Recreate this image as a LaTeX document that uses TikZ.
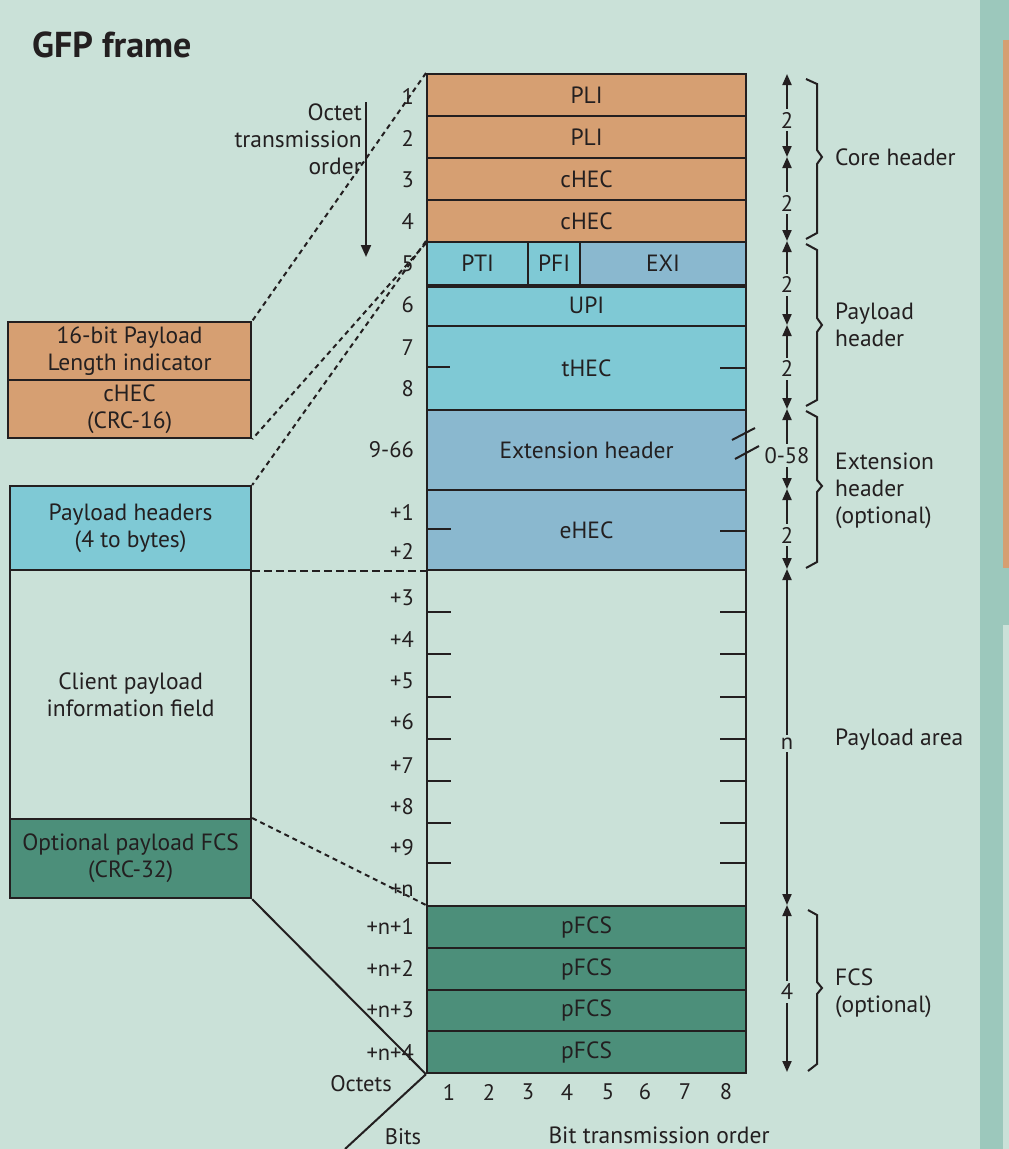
\documentclass[tikz,border=0pt]{standalone}
\usepackage{fontspec}
\setmainfont{PT Sans}
\usetikzlibrary{arrows.meta}
\definecolor{bg}{HTML}{CAE1D8}
\definecolor{strip}{HTML}{9CC8BC}
\definecolor{orng}{HTML}{D69F72}
\definecolor{cyanA}{HTML}{7FC9D5}
\definecolor{blueA}{HTML}{8AB8CF}
\definecolor{grn}{HTML}{4C8F7A}
\definecolor{ink}{HTML}{231F20}
\begin{document}
\begin{tikzpicture}[x=1pt,y=-1pt,
  fbox/.style={draw=ink, line width=2.2pt, inner sep=0pt, anchor=north west, text=ink,
     font=\fontsize{23.5}{27}\selectfont, align=center},
  lbox/.style={fbox, font=\fontsize{23.5}{27}\selectfont},
  num/.style={text=ink, inner sep=0pt, anchor=east, font=\fontsize{22.5}{25}\selectfont},
  lbl/.style={text=ink, inner sep=0pt, font=\fontsize{23.5}{27}\selectfont, align=left},
  tick/.style={draw=ink, line width=2pt},
  dotl/.style={draw=ink, line width=2pt, dash pattern=on 5pt off 4pt},
  dashl/.style={draw=ink, line width=2pt, dash pattern=on 8pt off 4pt},
  solidl/.style={draw=ink, line width=2pt},
  dim/.style={draw=ink, line width=2pt, {Triangle[length=11pt,width=9pt]}-{Triangle[length=11pt,width=9pt]}},
  dimlbl/.style={fill=bg, text=ink, inner xsep=1pt, inner ysep=3pt, font=\fontsize{22.5}{25}\selectfont},
  brc/.style={draw=ink, line width=2pt, line join=miter},
]
\useasboundingbox (0,0) rectangle (1009,1149);
% background
\fill[bg] (0,0) rectangle (1009,1149);
\fill[strip] (980,0) rectangle (1009,1149);
\fill[orng] (1003,40) rectangle (1009,568);
\fill[bg] (1003,625) rectangle (1009,1149);

% title
\node[anchor=west, text=ink, inner sep=0pt, font=\fontsize{36}{40}\selectfont\bfseries] (title) at (32,45) {GFP frame};

% main frame rows
\node[fbox, fill=orng, minimum width=319pt, minimum height=42pt] (r1) at (426,73) {PLI};
\node[fbox, fill=orng, minimum width=319pt, minimum height=42pt] (r2) at (426,115) {PLI};
\node[fbox, fill=orng, minimum width=319pt, minimum height=42pt] (r3) at (426,157) {cHEC};
\node[fbox, fill=orng, minimum width=319pt, minimum height=42pt] (r4) at (426,199) {cHEC};
\node[fbox, fill=cyanA, minimum width=101pt, minimum height=43pt] (pti) at (426,241) {PTI};
\node[fbox, fill=cyanA, minimum width=52pt, minimum height=43pt] (pfi) at (527,241) {PFI};
\node[fbox, fill=blueA, minimum width=166pt, minimum height=43pt] (exi) at (579,241) {EXI};
\node[fbox, fill=cyanA, minimum width=319pt, minimum height=41pt] (upi) at (426,284) {UPI};
\draw[ink, line width=4.5pt] (pti.south west) -- (exi.south east);
\node[fbox, fill=cyanA, minimum width=319pt, minimum height=84pt] (thec) at (426,325) {tHEC};
\node[fbox, fill=blueA, minimum width=319pt, minimum height=80pt] (ext) at (426,409) {Extension header};
\node[fbox, fill=blueA, minimum width=319pt, minimum height=80pt] (ehec) at (426,489) {eHEC};
\node[fbox, fill=bg, minimum width=319pt, minimum height=336pt] (pay) at (426,569) {};
\node[fbox, fill=grn, minimum width=319pt, minimum height=42pt] (f1) at (426,905) {pFCS};
\node[fbox, fill=grn, minimum width=319pt, minimum height=42pt] (f2) at (426,947) {pFCS};
\node[fbox, fill=grn, minimum width=319pt, minimum height=41pt] (f3) at (426,989) {pFCS};
\node[fbox, fill=grn, minimum width=319pt, minimum height=42pt] (f4) at (426,1030) {pFCS};

% ticks
\draw[tick] ([yshift=-42pt]thec.north west) -- ++(24,0);
\draw[tick] ([yshift=-43pt]thec.north east) -- ++(-27,0);
\draw[tick] ([yshift=-40pt]ehec.north west) -- ++(25,0);
\draw[tick] ([yshift=-42pt]ehec.north east) -- ++(-27,0);
\foreach \yy in {43,85,128,170,212,254,294}{
  \draw[tick] ([yshift=-\yy pt]pay.north west) -- ++(25,0);
  \draw[tick] ([yshift=-\yy pt]pay.north east) -- ++(-27,0);
}
% break marks on extension header
\draw[solidl] (732,440) -- (755,428);
\draw[solidl] (735,459) -- (759,446);

% octet numbers
\foreach \t/\yy in {1/96,2/138,3/180,4/221,5/264,6/305,7/348,8/389,9-66/450,+1/512,+2/551,+3/598,+4/639,+5/681,+6/722,+7/766,+8/807,+9/848,+n/890,+n+1/926,+n+2/968,+n+3/1010,+n+4/1052}{
  \node[num] at (414,\yy) {\t};
}
\node[num, anchor=center] (octets) at (361,1084) {Octets};
\node[num, anchor=center] (bits) at (403,1137) {Bits};
\foreach \t/\xx in {1/449,2/489,3/528,4/567,5/608,6/645,7/685,8/726}{
  \node[num, anchor=center] at (\xx,1092) {\t};
}
\node[num, anchor=center, font=\fontsize{23.5}{27}\selectfont] (bto) at (659,1135) {Bit transmission order};

% octet transmission order
\node[lbl, align=right, anchor=east] (oto) at (362,139) {Octet\\transmission\\order};
\coordinate (otoa) at (366,102);
\coordinate (otob) at (366,257);
\draw[solidl, -{Triangle[length=12pt,width=10pt]}] (otoa) -- (otob);

% left boxes
\node[lbox, fill=orng, minimum width=243pt, minimum height=58pt] (plib) at (7,321) {16-bit Payload\\Length indicator};
\node[lbox, fill=orng, minimum width=243pt, minimum height=58pt] (checb) at (7,379) {cHEC\\(CRC-16)};
\node[lbox, fill=cyanA, minimum width=241pt, minimum height=84pt] (phb) at (9,485) {Payload headers\\(4 to bytes)};
\node[lbox, fill=bg, minimum width=241pt, minimum height=249pt] (cpb) at (9,569) {Client payload\\information field};
\node[lbox, fill=grn, minimum width=241pt, minimum height=79pt] (fcsb) at (9,818) {Optional payload FCS\\(CRC-32)};

% connecting lines
\draw[dotl] (r1.north west) -- (plib.north east);
\draw[dotl] (r4.south west) -- (checb.south east);
\draw[dotl] (pti.north west) -- (phb.north east);
\draw[dashl] (phb.south east) -- (ehec.south west);
\draw[dotl] (fcsb.north east) -- (f1.north west);
\draw[solidl] (fcsb.south east) -- (f4.south west);
\coordinate (bitsend) at (345,1149);
\draw[solidl] (f4.south west) -- (bitsend);

% dimension arrows
\coordinate (d0) at (787,74);
\coordinate (d1) at (787,157);
\coordinate (d2) at (787,241);
\coordinate (d3) at (787,325);
\coordinate (d4) at (787,409);
\coordinate (d5) at (787,489);
\coordinate (d6) at (787,569);
\coordinate (d7) at (787,905);
\coordinate (d8) at (787,1072);
\draw[dim] (d0) -- node[dimlbl, pos=0.56]{2} (d1);
\draw[dim] (d1) -- node[dimlbl, pos=0.55]{2} (d2);
\draw[dim] (d2) -- node[dimlbl, pos=0.52]{2} (d3);
\draw[dim] (d3) -- node[dimlbl, pos=0.52]{2} (d4);
\draw[dim] (d4) -- node[dimlbl, pos=0.58]{0-58} (d5);
\draw[dim] (d5) -- node[dimlbl, pos=0.58]{2} (d6);
\draw[dim] (d6) -- node[dimlbl, pos=0.52]{n} (d7);
\draw[dim] (d7) -- node[dimlbl, pos=0.52]{4} (d8);

% braces
\draw[brc] (806,79) -- (817,84) -- (817,150) -- (822,157) -- (817,164) -- (817,233) -- (806,239);
\draw[brc] (806,244) -- (817,250) -- (817,318) -- (822,325) -- (817,332) -- (817,400) -- (806,406);
\draw[brc] (806,411) -- (817,417) -- (817,480) -- (822,486) -- (817,492) -- (817,562) -- (806,568);
\draw[brc] (808,910) -- (817,915) -- (817,982) -- (822,988) -- (817,994) -- (817,1064) -- (808,1071);

\node[lbl, anchor=west] (coreh) at (835,157) {Core header};
\node[lbl, anchor=west] (payh) at (835,325) {Payload\\header};
\node[lbl, anchor=west] (exth) at (835,491) {Extension\\header\\(optional)};
\node[lbl, anchor=west] (paya) at (835,740) {Payload area};
\node[lbl, anchor=west] (fcsh) at (835,993) {FCS\\(optional)};
\end{tikzpicture}
\end{document}
